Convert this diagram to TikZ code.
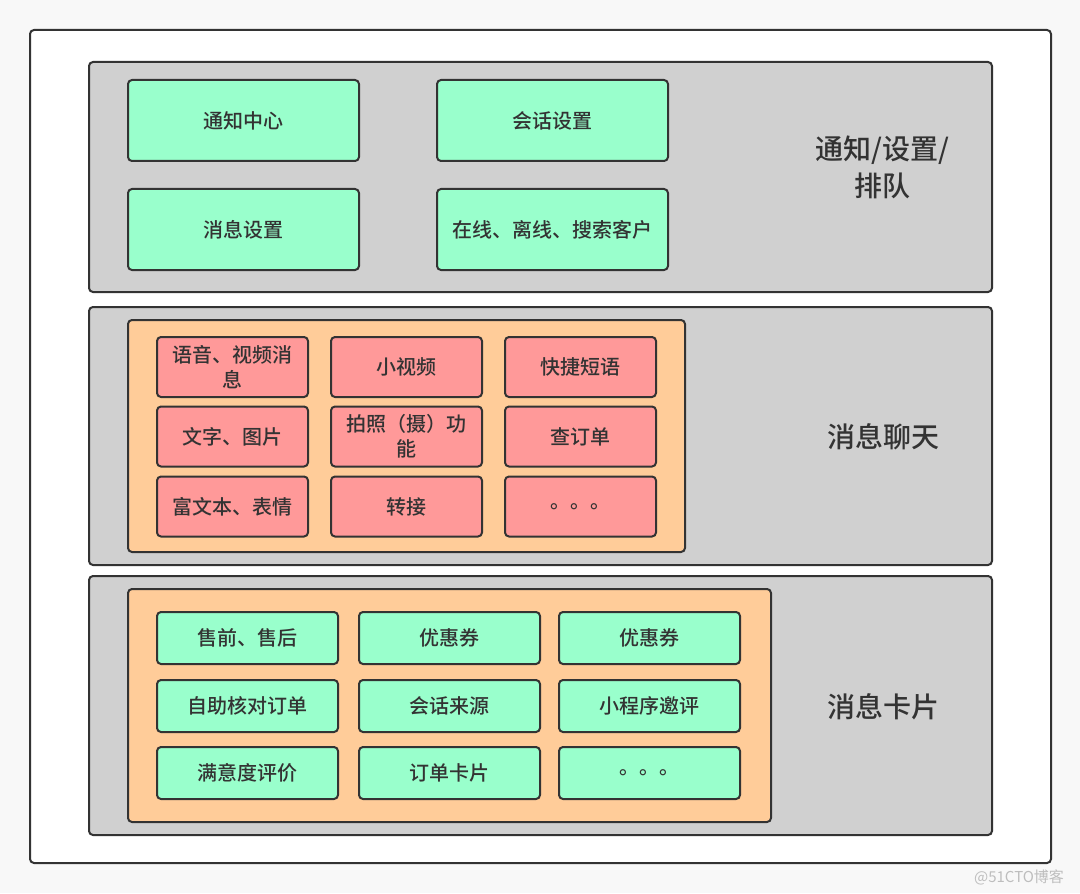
\documentclass[tikz,border=0pt]{standalone}
\usepackage{fontspec}
\setmainfont{Noto Sans CJK SC}[BoldFont={Noto Sans CJK SC Medium}]
\usetikzlibrary{positioning}
\definecolor{im-frame}{RGB}{51,51,51}
\definecolor{im-page}{RGB}{248,248,248}
\definecolor{im-grey}{RGB}{208,208,208}
\definecolor{im-orange}{RGB}{255,204,153}
\definecolor{im-red}{RGB}{255,153,153}
\definecolor{im-green}{RGB}{153,255,204}
\definecolor{im-mark}{RGB}{190,190,190}

\tikzset{
  layer/.style={draw=im-frame, line width=1pt, rounded corners=2pt, fill=im-grey,
    minimum width=451.5pt, inner sep=0pt},
  group/.style={draw=im-frame, line width=1pt, rounded corners=2pt, fill=im-orange, inner sep=0pt},
  item/.style={draw=im-frame, line width=1pt, rounded corners=2pt, inner sep=0pt,
    align=center, font=\bfseries\fontsize{10pt}{12.5pt}\selectfont, text=im-frame},
  topitem/.style={item, fill=im-green, minimum width=115.5pt, minimum height=40.5pt},
  chatitem/.style={item, fill=im-red, minimum width=75.5pt, minimum height=30pt},
  carditem/.style={item, fill=im-green, minimum width=90.5pt, minimum height=26pt},
  title/.style={align=center, font=\bfseries\fontsize{14pt}{18.5pt}\selectfont, text=im-frame}
}

\begin{document}
\begin{tikzpicture}[x=0.5pt,y=-0.5pt]
\useasboundingbox[fill=im-page] (0,0) rectangle (1080,893);
% Rahmen:
\node[draw=im-frame, line width=1pt, rounded corners=2pt, fill=white,
  minimum width=510.5pt, minimum height=416.5pt] (outer) at (540.5,446.5) {};
\node[im-mark, anchor=east, font=\fontsize{7.5pt}{8pt}\selectfont] (mark) at (1071,877) {@51CTO博客};

% Schicht 1: Benachrichtigung
\node[layer, minimum height=115pt] (notify) at (540.5,177) {};
\node[topitem] (center) at (243.5,120.5) {通知中心};
\node[topitem] (session) at (552.5,120.5) {会话设置};
\node[topitem] (msgset) at (243.5,229.5) {消息设置};
\node[topitem] (online) at (552.5,229.5) {在线、离线、搜索客户};
\node[title] (notifytitle) at (882,167) {通知/设置/\\排队};

% Schicht 2: Chat
\node[layer, minimum height=129pt] (chat) at (540.5,436) {};
\node[group, minimum width=278.5pt, minimum height=116pt] (chatgroup) at (406.5,436) {};
\node[chatitem] (voice) at (232.5,367) {语音、视频消\\息};
\node[chatitem] (video) at (406.5,367) {小视频};
\node[chatitem] (phrase) at (580.5,367) {快捷短语};
\node[chatitem] (text) at (232.5,436.5) {文字、图片};
\node[chatitem] (photo) at (406.5,436.5) {拍照（摄）功\\能};
\node[chatitem] (order) at (580.5,436.5) {查订单};
\node[chatitem] (rich) at (232.5,506.5) {富文本、表情};
\node[chatitem] (transfer) at (406.5,506.5) {转接};
\node[chatitem] (chatmore) at (580.5,506.5) {。。。};
\node[title] (chattitle) at (883,437) {消息聊天};

% Schicht 3: Karten
\node[layer, minimum height=129.5pt] (card) at (540.5,705.5) {};
\node[group, minimum width=321.5pt, minimum height=116.5pt] (cardgroup) at (449.5,705.5) {};
\node[carditem] (sale) at (247.5,638) {售前、售后};
\node[carditem] (couponA) at (449.5,638) {优惠券};
\node[carditem] (couponB) at (649.5,638) {优惠券};
\node[carditem] (check) at (247.5,706) {自助核对订单};
\node[carditem] (source) at (449.5,706) {会话来源};
\node[carditem] (rate) at (649.5,706) {小程序邀评};
\node[carditem] (satisfy) at (247.5,773) {满意度评价};
\node[carditem] (ordercard) at (449.5,773) {订单卡片};
\node[carditem] (cardmore) at (649.5,773) {。。。};
\node[title] (cardtitle) at (883,707) {消息卡片};
\end{tikzpicture}
\end{document}
